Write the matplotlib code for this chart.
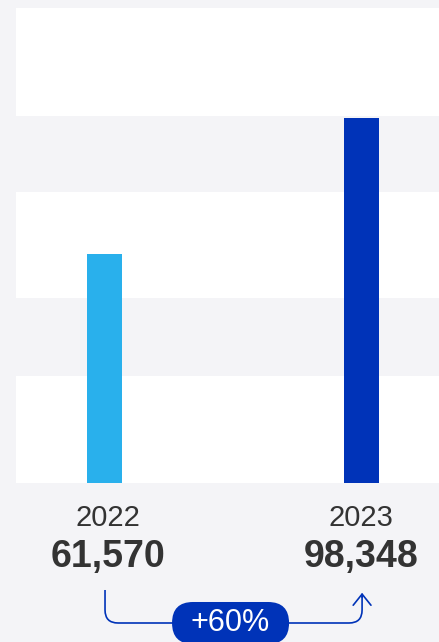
import matplotlib
matplotlib.use("Agg")
import matplotlib.pyplot as plt
from matplotlib.patches import FancyBboxPatch, FancyArrowPatch, PathPatch
from matplotlib.path import Path

# ---- data ----
years = ["2022", "2023"]
values = [61570, 98348]
value_labels = ["61,570", "98,348"]
growth_label = "+60%"

BG = "#f4f4f7"
BAND = "#ffffff"
BAR_COLORS = ["#29b0ec", "#0033b8"]
INK = "#333333"
ACCENT = "#0033b8"

W, H = 439, 642
DPI = 100
YMAX = 128000
plt.rcParams["font.family"] = ["Liberation Sans", "DejaVu Sans"]

# tiny epsilon so float rounding doesn't drop the last pixel column
fig = plt.figure(figsize=(W / DPI + 0.001, H / DPI + 0.001), dpi=DPI, facecolor=BG)

# plot area in pixels: x 16..439, y 8..483 (from top)
ax = fig.add_axes([16 / W, (H - 483) / H, 1.01 - 16 / W, (483 - 8) / H])
ax.set_facecolor(BG)
ax.set_ylim(0, YMAX)
ax.set_xlim(-0.344, 1.302 + 0.017)

# alternating white bands (axes fraction, bottom -> top)
bands = [(0.0, 0.225), (0.389, 0.612), (0.772, 1.0)]
for lo, hi in bands:
    ax.axhspan(lo * YMAX, hi * YMAX, color=BAND, lw=0, zorder=0)

ax.bar(range(len(values)), values, width=0.136, color=BAR_COLORS, zorder=2)
for s in ax.spines.values():
    s.set_visible(False)
ax.set_xticks([])
ax.set_yticks([])

# overlay in pixel coordinates (y downwards)
ov = fig.add_axes([0, 0, 1, 1], facecolor="none")
ov.set_xlim(0, W)
ov.set_ylim(H, 0)
ov.axis("off")

label_x = [108, 361]
for x, yr, val in zip(label_x, years, value_labels):
    ov.text(x, 518, yr, ha="center", va="center", fontsize=21, color=INK)
    ov.text(x, 557, val, ha="center", va="center", fontsize=27, color=INK,
            fontweight="bold")

# connector from 2022 to 2023
x0, x1, yl, r = 105, 362, 623, 13
verts = [(x0, 590), (x0, yl - r), (x0, yl), (x0 + r, yl),
         (x1 - r, yl), (x1, yl), (x1, yl - r), (x1, 596)]
codes = [Path.MOVETO, Path.LINETO, Path.CURVE3, Path.CURVE3,
         Path.LINETO, Path.CURVE3, Path.CURVE3, Path.LINETO]
ov.add_patch(PathPatch(Path(verts, codes), fc="none", ec=ACCENT, lw=1.2))
ov.add_patch(FancyArrowPatch((x1, 600), (x1, 590), arrowstyle="->,head_length=5,head_width=4",
                             color=ACCENT, lw=1.2, mutation_scale=1.6))

pill = FancyBboxPatch((172, 602), 117, 42, boxstyle="round,pad=0,rounding_size=21",
                      fc=ACCENT, ec="none")
ov.add_patch(pill)
ov.text(230.5, 623, growth_label, ha="center", va="center", fontsize=22, color="white")

fig.savefig("out.png", dpi=DPI, facecolor=BG)
